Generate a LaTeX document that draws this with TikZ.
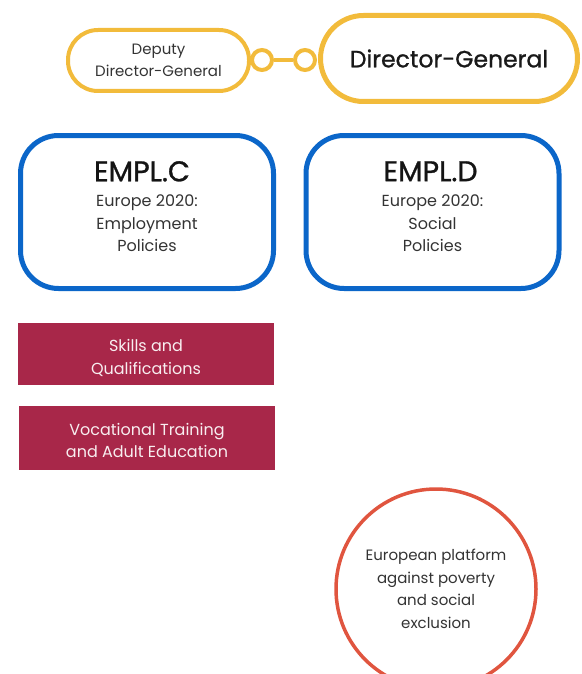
\documentclass[tikz,border=0pt]{standalone}
\usepackage{fontspec}
\setmainfont{Poppins}
\newfontfamily\headfont[FakeBold=1]{Poppins}
\usetikzlibrary{positioning}
\definecolor{dggold}{HTML}{F2BB3B}
\definecolor{emplblue}{HTML}{0B66C9}
\definecolor{unitred}{HTML}{A82749}
\definecolor{platred}{HTML}{E0553F}
\definecolor{txtgray}{HTML}{333333}
\tikzset{
	% direccao
	dgbox/.style={
		draw=dggold,
		rounded corners=30pt,
		inner sep=0pt,
		align=center,
		text=txtgray
	}, %
	% elos
	knot/.style={
		circle,
		draw=dggold,
		line width=4pt,
		minimum size=20pt,
		inner sep=0pt
	}, %
	% EMPL.C, EMPL.D
	emplbox/.style={
		draw=emplblue,
		line width=5pt,
		rounded corners=38pt,
		minimum width=253pt,
		minimum height=153pt,
		inner sep=0pt,
		align=center,
		text=txtgray,
		font=\fontsize{16}{22.5}\selectfont
	}, %
	% unidades
	unitbox/.style={
		fill=unitred,
		minimum width=256pt,
		inner sep=0pt,
		align=center,
		text=white!92!unitred,
		font=\fontsize{16}{22.5}\selectfont
	} %
}
\newcommand{\empltitle}[1]{{\headfont\fontsize{28.5}{28}\selectfont\color{black!92}#1}\\[3pt]}
\newcommand{\lowpad}[1]{\rule[-#1pt]{0pt}{0pt}}

\begin{document}
\begin{tikzpicture}[x=1pt, y=-1pt]
			\useasboundingbox (0,0) rectangle (581,674);
			
			% direccao
			\node[dgbox, line width=4pt, minimum width=181pt, minimum height=61pt,
			font=\fontsize{15}{22.5}\selectfont] (ddg) at (158.5,60.5)
			{Deputy\\Director-General};
			\node[dgbox, line width=5pt, rounded corners=43pt, minimum width=257pt,
			minimum height=86pt, font=\headfont\fontsize{23.5}{26}\selectfont, text=black!90] (dg) at (449,58.5)
			{Director-General};
			\node[knot] (k1) at (262,60) {};
			\node[knot] (k2) at (305,60) {};
			\draw[dggold, line width=4pt] (k1)--(k2);
			
			% EMPL
			\node[emplbox] (emplc) at (147,212)
			{\empltitle{\hspace*{-10pt}EMPL.C}Europe 2020:\\Employment\\Policies\lowpad{11}};
			\node[emplbox] (empld) at (432.5,212)
			{\empltitle{\hspace*{-4pt}EMPL.D}Europe 2020:\\Social\\Policies\lowpad{11}};
			
			% unidades
			\node[unitbox, minimum height=62pt] (skills) at (146,354)
			{\rule{0pt}{20pt}Skills and\\Qualifications};
			\node[unitbox, minimum height=64pt] (voc) at (147,438)
			{\rule{0pt}{17pt}Vocational Training\\and Adult Education};
			
			% plataforma
			\node[circle, draw=platred, line width=3.5pt, minimum size=200pt, inner sep=0pt,
			align=center, text=txtgray, font=\fontsize{15}{22.5}\selectfont] (plat) at (436,589)
			{European platform\\against poverty\\and social\\exclusion};
		\end{tikzpicture}
\end{document}
